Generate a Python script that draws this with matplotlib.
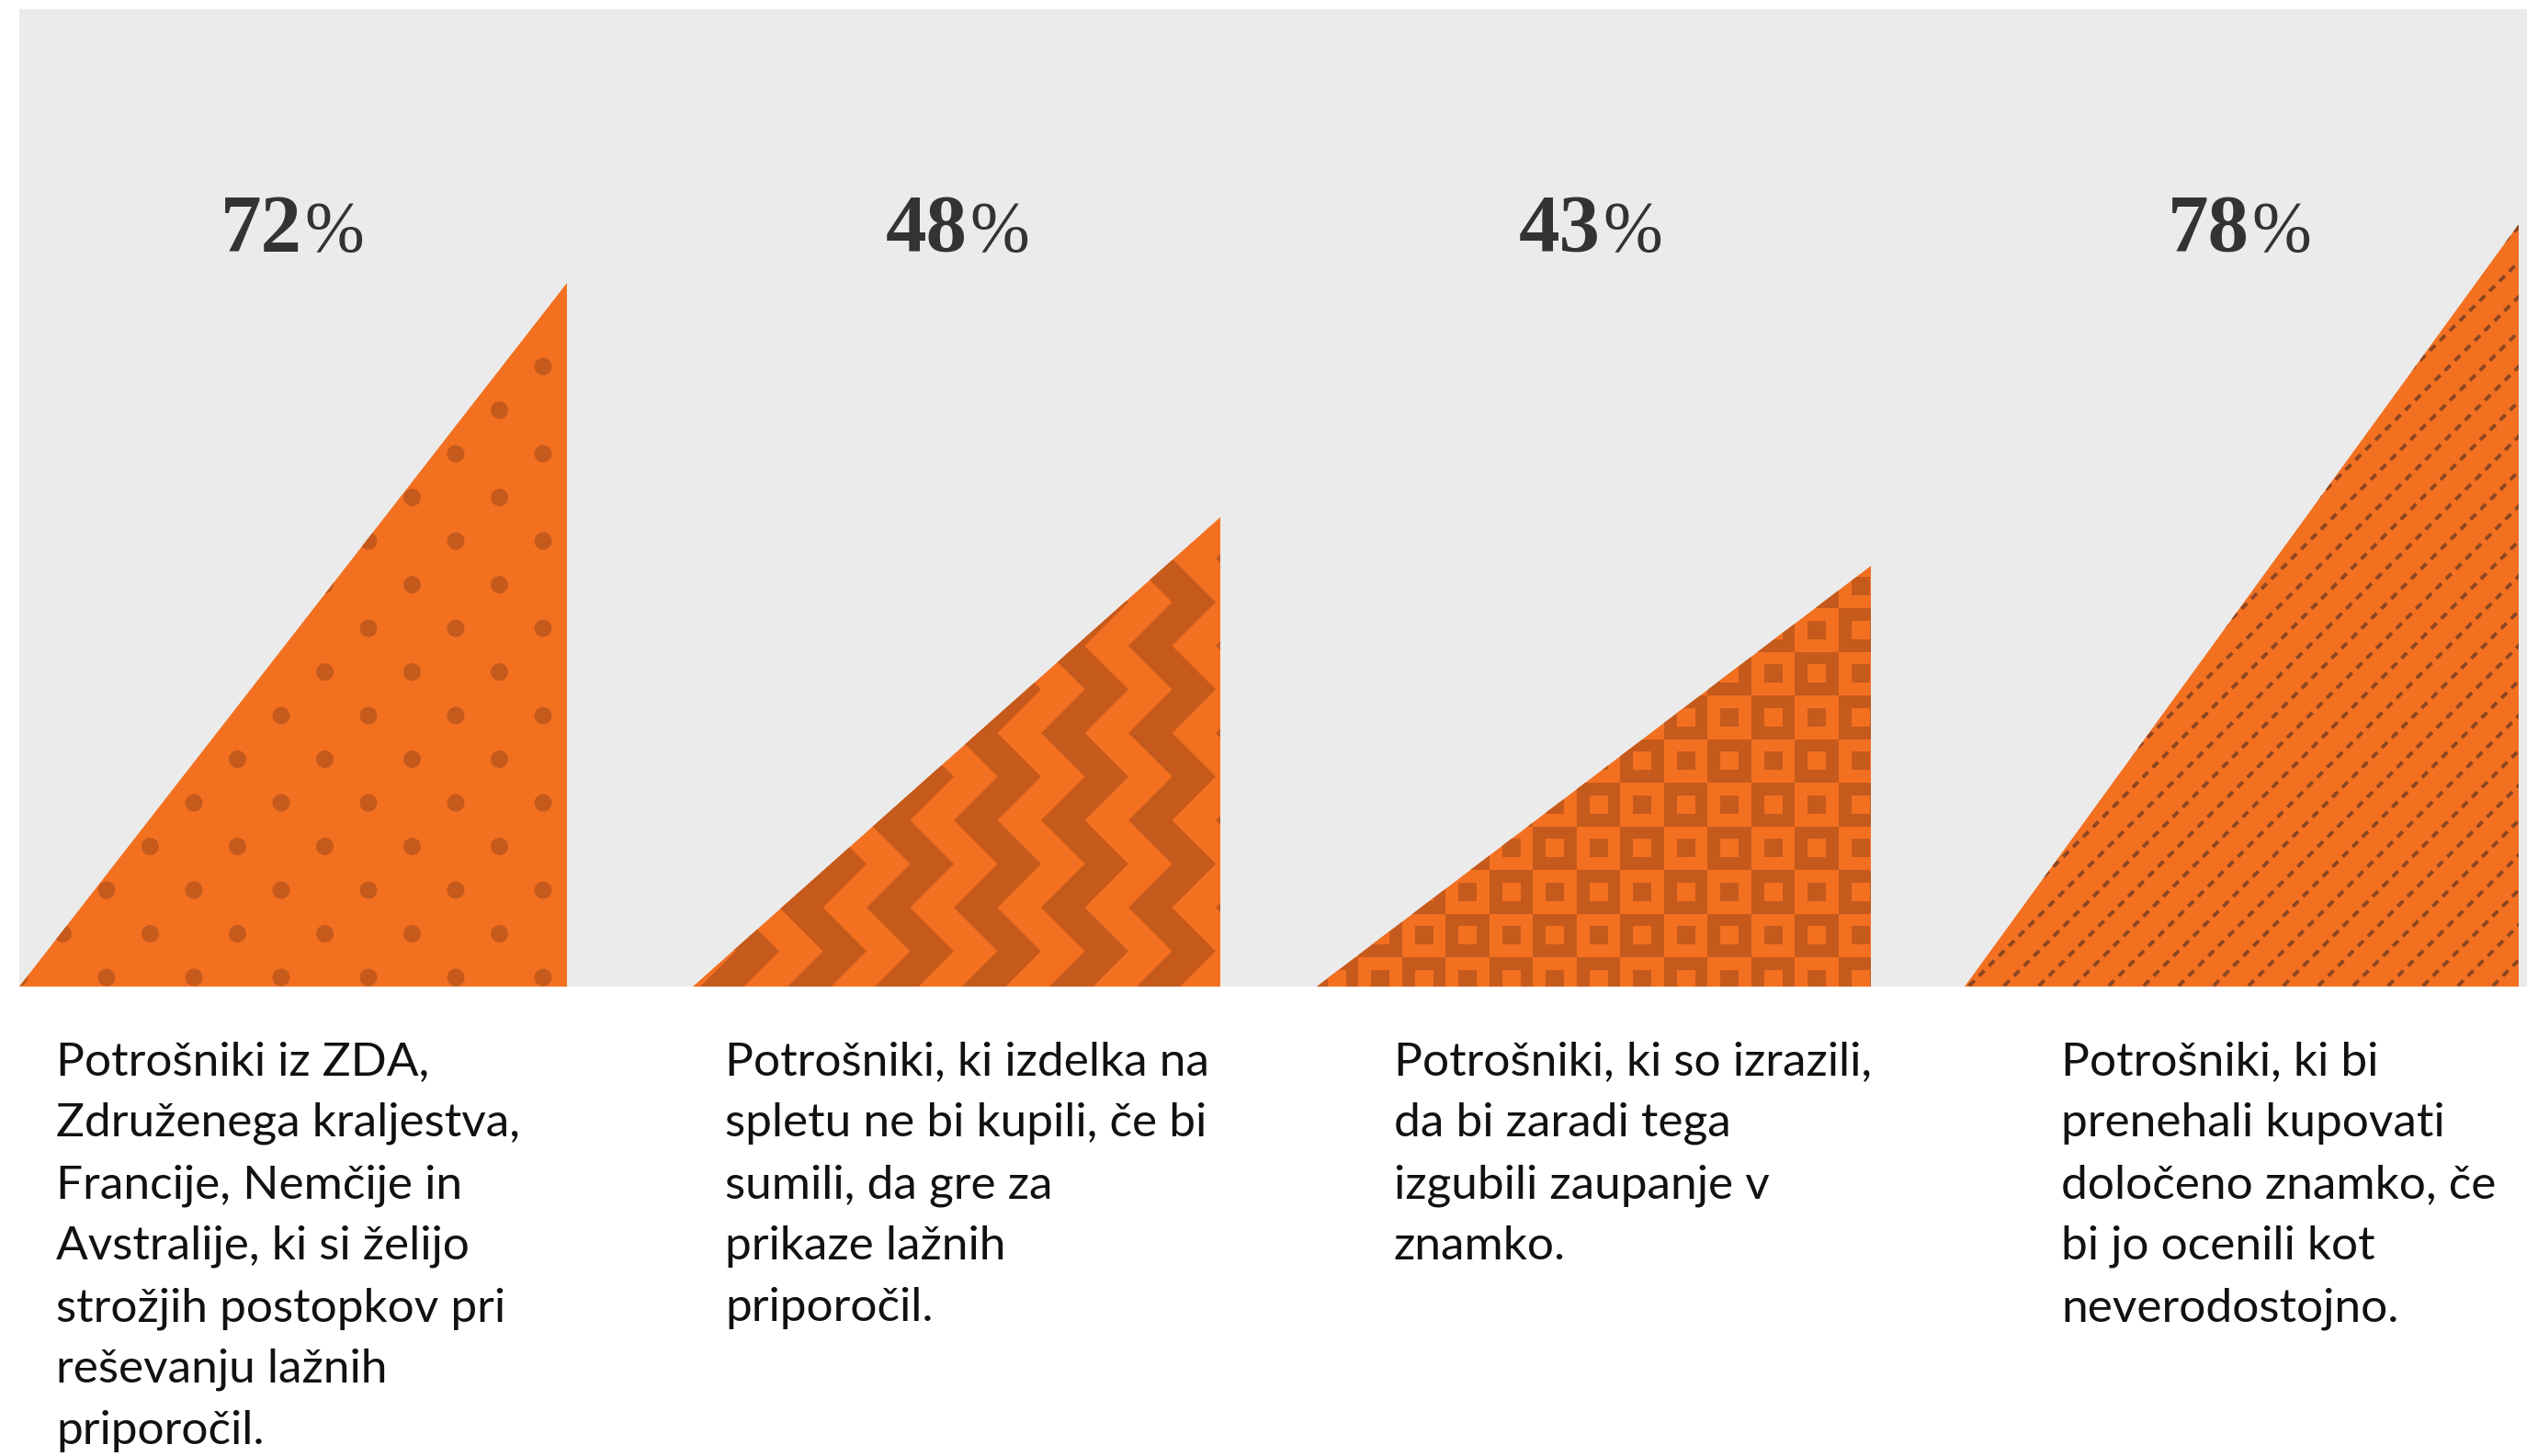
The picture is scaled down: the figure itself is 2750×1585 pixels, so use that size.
import numpy as np
import matplotlib
matplotlib.use("Agg")
import matplotlib.pyplot as plt
from matplotlib.patches import Polygon, Rectangle, Circle
from matplotlib.collections import PatchCollection, LineCollection
from matplotlib.transforms import Affine2D

plt.rcParams['lines.scale_dashes'] = False

# data
values = [72, 48, 43, 78]
value_labels = ["72", "48", "43", "78"]
descriptions = [
    ["Potrošniki iz ZDA,", "Združenega kraljestva,", "Francije, Nemčije in",
     "Avstralije, ki si želijo", "strožjih postopkov pri", "reševanju lažnih",
     "priporočil."],
    ["Potrošniki, ki izdelka na", "spletu ne bi kupili, če bi", "sumili, da gre za",
     "prikaze lažnih", "priporočil."],
    ["Potrošniki, ki so izrazili,", "da bi zaradi tega", "izgubili zaupanje v",
     "znamko."],
    ["Potrošniki, ki bi", "prenehali kupovati", "določeno znamko, če",
     "bi jo ocenili kot", "neverodostojno."],
]
patterns = ["dots", "zigzag", "squares", "dashes"]

# layout (pixels)
W, H = 2750, 1585
PL, PT, PB = 21, 10, 1074
tri_left = [0, 733, 1412, 2117]
tri_right = [596, 1307, 2015, 2720]
label_join_x = [329, 1053, 1742, 2448]
label_base_y = 273
text_x = [61, 789, 1517, 2243]
text_base_y = 1170
line_step = 67

ORANGE = "#F37021"
DARK = "#C55A1C"
GREY = "#EBEBEB"

fig = plt.figure(figsize=(W / 100, H / 100), dpi=100)
fig.patch.set_facecolor("white")

ax = fig.add_axes([PL / W, 1 - PB / H, (W - PL) / W, (PB - PT) / H])
ax.set_xlim(0, W - PL)
ax.set_ylim(0, 100)
ax.set_facecolor(GREY)
for s in ax.spines.values():
    s.set_visible(False)
ax.set_xticks([])
ax.set_yticks([])

ppy = (PB - PT) / 100.0
pix = Affine2D().scale(1, 1 / ppy) + ax.transData
S = 47.5


def tri_wave(y):
    ph = ((y - 86) % 95) / S
    return np.where(ph <= 1, ph, 2 - ph)


def draw_pattern(kind, l, r, top, clip):
    if kind == "dots":
        pts = []
        for j in range(int(top / S) + 2):
            for i in range(int(l / S) - 1, int(r / S) + 2):
                if (i + j) % 2 == 0:
                    pts.append(Circle((i * S, 10 + j * S), 9.5))
        pc = PatchCollection(pts, facecolor=DARK, edgecolor="none", transform=pix)
        pc.set_clip_path(clip)
        ax.add_collection(pc)
    elif kind == "zigzag":
        ys = 86 + S * np.arange(-3, int(top / S) + 4)
        t = tri_wave(ys)
        polys = []
        k0 = int((l - 67) // 95) - 2
        for k in range(k0, k0 + int((r - l) / 95) + 5):
            x0 = 67 + 95 * k
            left = np.column_stack([x0 + S * t, ys])
            right = np.column_stack([x0 + S + S * t, ys])[::-1]
            polys.append(Polygon(np.vstack([left, right]), closed=True))
        pc = PatchCollection(polys, facecolor=DARK, edgecolor="none", transform=pix)
        pc.set_clip_path(clip)
        ax.add_collection(pc)
    elif kind == "squares":
        rects, cols = [], []
        i0 = int((l - 32) // S) - 1
        for j in range(-1, int(top / S) + 2):
            for i in range(i0, i0 + int((r - l) / S) + 3):
                x = 32 + i * S
                y = 32 + j * S
                if (i + j) % 2 == 0:
                    rects.append(Rectangle((x, y), S, S))
                    cols.append(DARK)
                    rects.append(Rectangle((x + 14, y + 14), 20, 20))
                    cols.append(ORANGE)
                else:
                    rects.append(Rectangle((x + 14, y + 14), 20, 20))
                    cols.append(DARK)
        pc = PatchCollection(rects, facecolors=cols, edgecolor="none", transform=pix)
        pc.set_clip_path(clip)
        ax.add_collection(pc)
    elif kind == "dashes":
        segs = []
        c = l - top - 40
        while c < r + 40:
            segs.append([(c - 10, -10), (c + top + 10, top + 10)])
            c += 38
        lc = LineCollection(segs, colors="#8E4620", linewidths=2.8,
                            linestyles=[(0, (6.0, 5.0))], transform=pix)
        lc.set_clip_path(clip)
        ax.add_collection(lc)


for v, l, r, kind in zip(values, tri_left, tri_right, patterns):
    tri = Polygon([(l, 0), (r, 0), (r, v)], closed=True, facecolor=ORANGE,
                  edgecolor="none", transform=ax.transData, zorder=1)
    ax.add_patch(tri)
    draw_pattern(kind, l, r, v * ppy, tri)

# percentage labels
for lab, jx in zip(value_labels, label_join_x):
    fig.text(jx / W, 1 - label_base_y / H, lab, ha="right", va="baseline",
             fontsize=64, fontweight="bold", family="Liberation Serif", color="#333333")
    fig.text((jx + 2) / W, 1 - label_base_y / H, "%", ha="left", va="baseline",
             fontsize=56, fontweight="light", family="Liberation Serif", color="#333333")

# descriptions
for lines, tx in zip(descriptions, text_x):
    for k, line in enumerate(lines):
        fig.text(tx / W, 1 - (text_base_y + k * line_step) / H, line,
                 ha="left", va="baseline", fontsize=37, family="Lato", color="#111111")

fig.savefig("out.png", dpi=100, facecolor="white")
